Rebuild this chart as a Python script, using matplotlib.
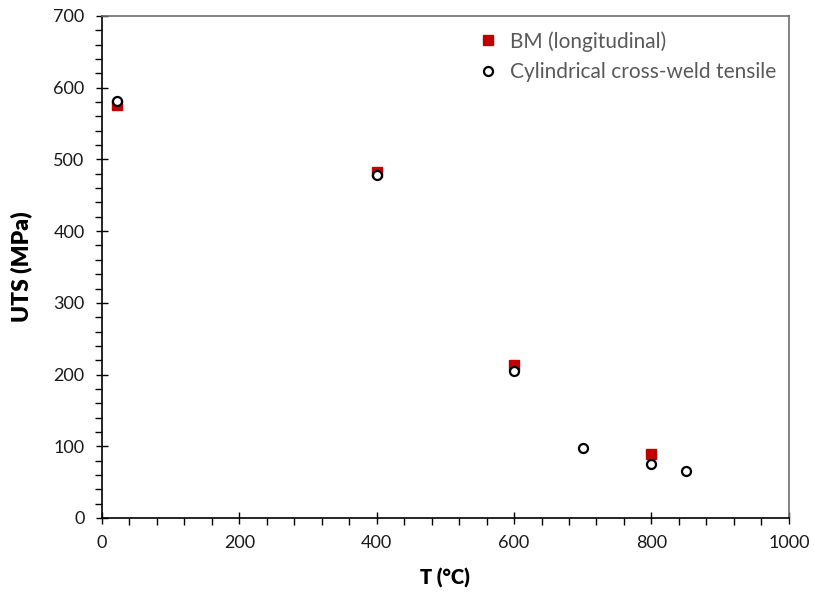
import matplotlib
matplotlib.use("Agg")
import matplotlib.pyplot as plt
from matplotlib.ticker import MultipleLocator

plt.rcParams['font.family'] = ['Lato', 'DejaVu Sans']

# UTS vs temperature
bm_T = [22, 400, 600, 800]
bm_uts = [576, 483, 213, 89]

cw_T = [22, 400, 600, 700, 800, 850]
cw_uts = [581, 478, 205, 98, 75, 66]

x_ticks = [0, 200, 400, 600, 800, 1000]
y_ticks = [0, 100, 200, 300, 400, 500, 600, 700]

fig = plt.figure(figsize=(8.14, 5.92), dpi=100)
ax = fig.add_axes([0.1253, 0.125, 0.8437, 0.848])

ax.plot(bm_T, bm_uts, linestyle='none', marker='s', markersize=6.5,
        color='#C00000', markeredgecolor='#C00000', label='BM (longitudinal)', zorder=3)
ax.plot(cw_T, cw_uts, linestyle='none', marker='o', markersize=6.5,
        markerfacecolor='white', markeredgecolor='black', markeredgewidth=1.6,
        label='Cylindrical cross-weld tensile', zorder=4)

ax.set_xlim(0, 1000)
ax.set_ylim(0, 700)
ax.set_xticks(x_ticks)
ax.set_yticks(y_ticks)
ax.xaxis.set_minor_locator(MultipleLocator(40))
ax.yaxis.set_minor_locator(MultipleLocator(20))
ax.tick_params(which='major', direction='inout', length=9, width=1.0, labelsize=13,
               colors='black', labelcolor='#1a1a1a', pad=8)
ax.tick_params(which='minor', direction='out', length=5, width=1.0, colors='black')

for side in ('left', 'bottom'):
    ax.spines[side].set_color('black')
    ax.spines[side].set_linewidth(1.2)
for side in ('top', 'right'):
    ax.spines[side].set_color('#6e6e6e')
    ax.spines[side].set_linewidth(1.2)

ax.set_xlabel('T (°C)', fontsize=14.5, fontweight='heavy', labelpad=12)
ax.set_ylabel('UTS (MPa)', fontsize=16.5, fontweight='heavy', labelpad=15)

leg = ax.legend(loc='upper right', bbox_to_anchor=(1.0, 0.995), frameon=False,
                fontsize=15, handlelength=0.7, handletextpad=0.7, labelspacing=0.5,
                borderaxespad=0.2)
for t in leg.get_texts():
    t.set_color('#595959')

fig.savefig('out.png', dpi=100)
